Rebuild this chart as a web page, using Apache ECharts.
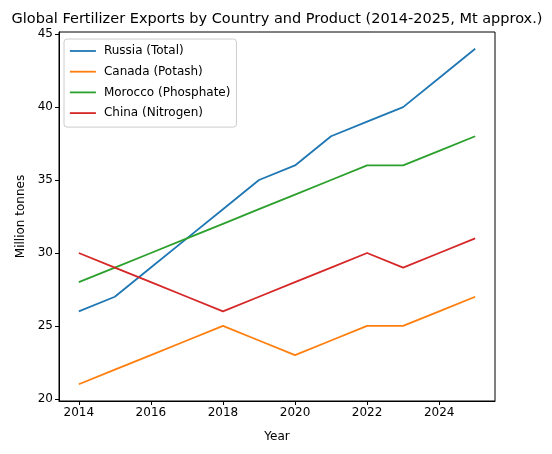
<!DOCTYPE html>
<html>
<head>
<meta charset="utf-8">
<script src="https://cdn.jsdelivr.net/npm/echarts@6/dist/echarts.min.js"></script>
<style>
  html, body { margin: 0; padding: 0; background: #fff; }
  #chart { width: 552px; height: 454px; }
</style>
</head>
<body>
<div id="chart"></div>
<script>
/* data */
const years = [2014, 2015, 2016, 2017, 2018, 2019, 2020, 2021, 2022, 2023, 2024, 2025];
const russia = [26, 27, 29, 31, 33, 35, 36, 38, 39, 40, 42, 44];
const canada = [21, 22, 23, 24, 25, 24, 23, 24, 25, 25, 26, 27];
const morocco = [28, 29, 30, 31, 32, 33, 34, 35, 36, 36, 37, 38];
const china = [30, 29, 28, 27, 26, 27, 28, 29, 30, 29, 30, 31];
const xTicks = [2014, 2016, 2018, 2020, 2022, 2024];
const yTicks = [20, 25, 30, 35, 40, 45];

const seriesNames = ["Russia (Total)", "Canada (Potash)", "Morocco (Phosphate)", "China (Nitrogen)"];
const seriesData = [russia, canada, morocco, china];
const colors = ["#1f77b4", "#ff7f0e", "#2ca02c", "#d62728"];

const font = "DejaVu Sans";

/* pair years with values */
function toPoints(values) {
  return years.map(function (y, i) {
    return [y, values[i]];
  });
}

let myChart = echarts.init(document.getElementById("chart"), null, { renderer: "canvas" });
let option = {
  animation: false,
  backgroundColor: "#ffffff",
  color: colors,
  title: {
    text: "Global Fertilizer Exports by Country and Product (2014-2025, Mt approx.)",
    left: 272,
    textAlign: "center",
    top: 7,
    textStyle: { fontFamily: font, fontSize: 14.5, fontWeight: "normal", color: "#000" },
  },
  legend: {
    orient: "vertical",
    left: 64,
    top: 39,
    itemWidth: 26,
    itemHeight: 14,
    itemGap: 8.7,
    padding: [6, 6, 8, 5],
    backgroundColor: "rgba(255,255,255,0.8)",
    borderColor: "#cccccc",
    borderWidth: 1,
    borderRadius: 3,
    itemStyle: { opacity: 0 },
    lineStyle: { width: 1.8 },
    textStyle: { fontFamily: font, fontSize: 12, color: "#000", padding: [0, 2, 0, 3] },
    data: seriesNames,
  },
  grid: {
    left: 59,
    right: 57,
    top: 32,
    bottom: 53,
    show: true,
    borderColor: "#000",
    borderWidth: 1,
  },
  xAxis: {
    type: "value",
    min: 2013.45,
    max: 2025.55,
    name: "Year",
    nameLocation: "middle",
    nameGap: 30,
    nameTextStyle: { fontFamily: font, fontSize: 12, color: "#000" },
    axisLine: { show: true, onZero: false, lineStyle: { color: "#000", width: 1 } },
    axisTick: { show: true, customValues: xTicks, length: 4, lineStyle: { color: "#000" } },
    axisLabel: {
      customValues: xTicks,
      fontFamily: font,
      fontSize: 12,
      color: "#000",
      margin: 6,
      formatter: function (v) { return String(v); },
    },
    splitLine: { show: false },
  },
  yAxis: {
    type: "value",
    min: 19.85,
    max: 45.15,
    name: "Million tonnes",
    nameLocation: "middle",
    nameGap: 28,
    nameTextStyle: { fontFamily: font, fontSize: 12, color: "#000" },
    axisLine: { show: true, onZero: false, lineStyle: { color: "#000", width: 1 } },
    axisTick: { show: true, customValues: yTicks, length: 4, lineStyle: { color: "#000" } },
    axisLabel: {
      customValues: yTicks,
      fontFamily: font,
      fontSize: 12,
      color: "#000",
      margin: 6,
    },
    splitLine: { show: false },
  },
  series: seriesNames.map(function (n, i) {
    return {
      name: n,
      type: "line",
      data: toPoints(seriesData[i]),
      symbol: "none",
      lineStyle: { color: colors[i], width: 1.8 },
    };
  }),
};
myChart.setOption(option);
</script>
</body>
</html>
